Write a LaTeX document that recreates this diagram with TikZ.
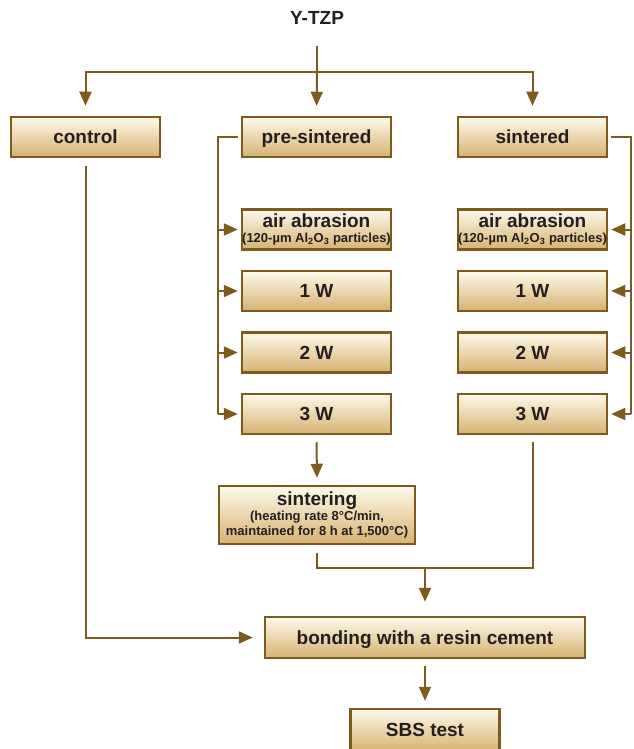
\documentclass[tikz,border=0pt]{standalone}
\usepackage{fontspec}
\setmainfont{Liberation Sans}
\usetikzlibrary{arrows.meta}
\definecolor{linebrown}{RGB}{125,90,30}
\definecolor{boxtop}{RGB}{254,250,236}
\definecolor{boxbottom}{RGB}{214,178,112}
\definecolor{textdark}{RGB}{35,31,32}
\newcommand{\smalltxt}{\fontsize{13}{15}\selectfont}
\tikzset{
  proc node/.style={
    draw=linebrown,
    line width=2.5pt,
    top color=boxtop,
    bottom color=boxbottom,
    minimum width=149pt,
    minimum height=40pt,
    inner sep=0pt,
    align=center,
    text=textdark,
    text height=13.5pt,
    text depth=0pt,
    font=\fontsize{19}{15}\selectfont\bfseries,
  },
  multi line/.style={text height={}, text depth={}},
  flow line/.style={draw=linebrown, line width=2pt},
  flow arrow/.style={flow line, -{Triangle[length=14pt,width=12pt]}},
}

\begin{document}
\begin{tikzpicture}[x=1pt, y=-1pt]
      \useasboundingbox (0,0) rectangle (633,749);
      \node[text=textdark, font=\fontsize{19}{21}\selectfont\bfseries] (ytzp) at (317,18) {Y-TZP};

      \node[proc node] (control) at (85.5,137) {control};
      \node[proc node] (pre) at (316.5,137) {pre-sintered};
      \node[proc node] (sint) at (532.5,137) {sintered};

      \node[proc node, multi line] (abr1) at (316.5,229.5) {air abrasion\\\smalltxt(120-µm Al\textsubscript{2}O\textsubscript{3} particles)};
      \node[proc node] (oneW1) at (316.5,291) {1 W};
      \node[proc node] (twoW1) at (316.5,352.5) {2 W};
      \node[proc node] (threeW1) at (316.5,414) {3 W};

      \node[proc node, multi line] (abr2) at (532.5,229.5) {air abrasion\\\smalltxt(120-µm Al\textsubscript{2}O\textsubscript{3} particles)};
      \node[proc node] (oneW2) at (532.5,291) {1 W};
      \node[proc node] (twoW2) at (532.5,352.5) {2 W};
      \node[proc node] (threeW2) at (532.5,414) {3 W};

      \node[proc node, multi line, minimum width=196pt, minimum height=58pt] (sintering) at (317,515)
        {sintering\\\smalltxt(heating rate 8°C/min,\\\smalltxt maintained for 8 h at 1,500°C)};
      \node[proc node, minimum width=320pt, minimum height=41pt] (bond) at (425,637.5) {bonding with a resin cement};
      \node[proc node, minimum height=42pt] (sbs) at (425,730) {SBS test};

      \coordinate (split) at (317,72);
      \coordinate (lbus) at (218,137);
      \coordinate (rbus) at (631,137);
      \coordinate (merge) at (425,568);

      % Y-TZP to the three groups
      \draw[flow line, shorten <=18pt] (ytzp.south) -- (split);
      \draw[flow arrow, shorten >=10pt] (split) -| (control.north);
      \draw[flow arrow, shorten >=10pt] (split) -- (pre.north);
      \draw[flow arrow, shorten >=10pt] (split) -| (sint.north);

      % pre-sintered branch
      \draw[flow line, shorten <=3pt] (pre.west) -- (lbus) -- (lbus |- threeW1);
      \draw[flow arrow, shorten >=3pt] (lbus |- abr1) -- (abr1.west);
      \draw[flow arrow, shorten >=3pt] (lbus |- oneW1) -- (oneW1.west);
      \draw[flow arrow, shorten >=3pt] (lbus |- twoW1) -- (twoW1.west);
      \draw[flow arrow, shorten >=3pt] (lbus |- threeW1) -- (threeW1.west);

      % sintered branch
      \draw[flow line, shorten <=3pt] (sint.east) -- (rbus) -- (rbus |- threeW2);
      \draw[flow arrow, shorten >=3pt] (rbus |- abr2) -- (abr2.east);
      \draw[flow arrow, shorten >=3pt] (rbus |- oneW2) -- (oneW2.east);
      \draw[flow arrow, shorten >=3pt] (rbus |- twoW2) -- (twoW2.east);
      \draw[flow arrow, shorten >=3pt] (rbus |- threeW2) -- (threeW2.east);

      \draw[flow arrow, shorten <=7pt, shorten >=7pt] (threeW1.south) -- (sintering.north);
      \draw[flow line, shorten <=8pt] (sintering.south) |- (merge);
      \draw[flow line, shorten <=7pt] (threeW2.south) |- (merge);
      \draw[flow arrow, shorten >=14pt] (merge) -- (bond.north);
      \draw[flow arrow, shorten <=8pt, shorten >=11pt] (control.south) |- (bond.west);
      \draw[flow arrow, shorten <=7pt, shorten >=7pt] (bond.south) -- (sbs.north);
    \end{tikzpicture}
\end{document}
